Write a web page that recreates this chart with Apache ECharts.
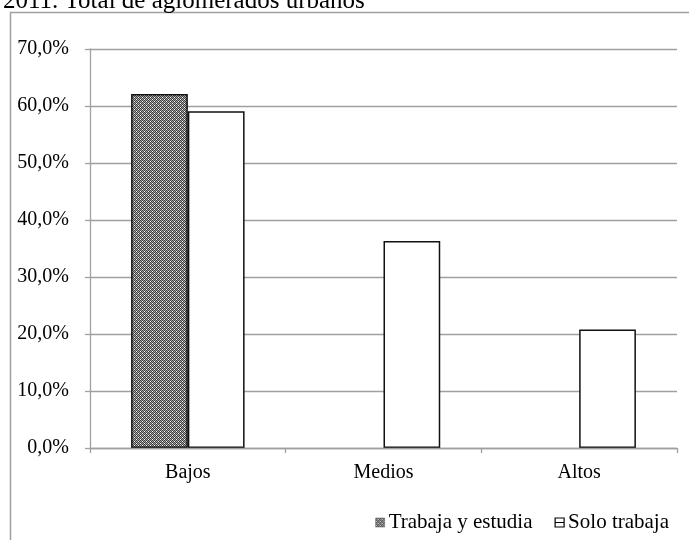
<!DOCTYPE html>
<html>
<head>
<meta charset="utf-8">
<script src="https://cdn.jsdelivr.net/npm/echarts@6/dist/echarts.min.js"></script>
<style>
html,body{margin:0;padding:0;background:#fff;}
#chart{width:689px;height:540px;}
</style>
</head>
<body>
<div id="chart"></div>
<script>
// ---- data ----
const titleText = '2011. Total de aglomerados urbanos';
const categories = ['Bajos', 'Medios', 'Altos'];
const seriesNames = ['Trabaja y estudia', 'Solo trabaja'];
const trabajaYEstudia = [62.1, null, null];
const soloTrabaja = [59.1, 36.3, 20.8];
const yTicks = [0, 10, 20, 30, 40, 50, 60, 70];

// ---- pattern for "Trabaja y estudia" ----
function makePattern() {
  const c = document.createElement('canvas');
  c.width = 4; c.height = 4;
  const ctx = c.getContext('2d');
  const D = '#3c3c3c', L = '#a8a8a8', W = '#ffffff';
  const map = [
    [D, L, D, L],
    [L, D, W, D],
    [D, L, D, L],
    [W, D, L, D]
  ];
  for (let y = 0; y < 4; y++) for (let x = 0; x < 4; x++) {
    ctx.fillStyle = map[y][x];
    ctx.fillRect(x, y, 1, 1);
  }
  return c;
}
const pattern = { image: makePattern(), repeat: 'repeat' };

const FONT = '"Liberation Serif", "Times New Roman", serif';
const chart = echarts.init(document.getElementById('chart'), null, { renderer: 'canvas' });

const option = {
  backgroundColor: '#fff',
  animation: false,
  title: {
    text: titleText,
    left: -2,
    top: -16,
    textStyle: { fontFamily: FONT, fontSize: 25, fontWeight: 'normal', color: '#000' }
  },
  graphic: [{
    type: 'rect',
    shape: { x: 10.5, y: 12.5, width: 720, height: 600 },
    style: { fill: 'none', stroke: '#a0a0a0', lineWidth: 1.5 },
    silent: true,
    z: -1
  }],
  grid: { left: 90, right: 12, top: 49, bottom: 92, containLabel: false },
  legend: {
    right: 15,
    top: 507,
    itemWidth: 9,
    itemHeight: 9,
    itemGap: 22,
    textStyle: { fontFamily: FONT, fontSize: 21, color: '#000', padding: [0, 0, 0, -1] },
    data: [
      { name: seriesNames[0], icon: 'rect', itemStyle: { color: pattern, borderColor: '#555', borderWidth: 0.5 } },
      { name: seriesNames[1], icon: 'path://M0,0L10,0L10,10L0,10Z M0,5L10,5', itemStyle: { color: '#fff', borderColor: '#000', borderWidth: 1.2 } }
    ]
  },
  xAxis: {
    type: 'category',
    data: categories,
    z: 5,
    axisLine: { lineStyle: { color: '#a0a0a0', width: 1.3 } },
    axisTick: { show: true, length: 5, lineStyle: { color: '#a0a0a0', width: 1.3 } },
    axisLabel: { fontFamily: FONT, fontSize: 20, color: '#000', margin: 15, lineHeight: 20 }
  },
  yAxis: {
    type: 'value',
    min: yTicks[0],
    max: yTicks[yTicks.length - 1],
    interval: 10,
    axisLine: { show: true, lineStyle: { color: '#a0a0a0', width: 1.3 } },
    axisTick: { show: true, length: 5, lineStyle: { color: '#a0a0a0', width: 1.3 } },
    splitLine: { lineStyle: { color: '#a0a0a0', width: 1.3 } },
    axisLabel: {
      fontFamily: FONT, fontSize: 20, color: '#000', margin: 21,
      formatter: v => v.toFixed(1).replace('.', ',') + '%'
    }
  },
  series: [
    {
      name: seriesNames[0],
      type: 'bar',
      data: trabajaYEstudia,
      barGap: '0%',
      barCategoryGap: '42%',
      itemStyle: { color: pattern, borderColor: '#111', borderWidth: 1.5 }
    },
    {
      name: seriesNames[1],
      type: 'bar',
      data: soloTrabaja,
      barGap: '0%',
      barCategoryGap: '42%',
      itemStyle: { color: '#fff', borderColor: '#111', borderWidth: 1.5 }
    }
  ]
};
chart.setOption(option);
</script>
</body>
</html>
